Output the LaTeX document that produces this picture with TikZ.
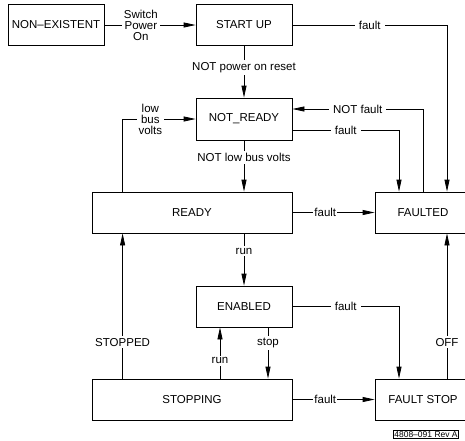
\documentclass[tikz,border=0pt]{standalone}
\usepackage{fontspec}
\setmainfont{Liberation Sans}
\usetikzlibrary{arrows.meta,calc}

\begin{document}
\begin{tikzpicture}[x=1pt, y=-1pt,
  state/.style={draw, line width=0.8pt, minimum height=41pt, inner sep=0pt, font=\fontsize{11.5}{11.5}\selectfont},
  lbl/.style={fill=white, inner xsep=4pt, inner ysep=2pt, font=\fontsize{11.5}{11}\selectfont, align=center},
  arr/.style={line width=0.8pt, -{Triangle[length=12pt,width=5pt]}}]
  \useasboundingbox (0,0) rectangle (465,440);
  \node[state, minimum width=96pt] (nonex) at (56,25) {NON--EXISTENT};
  \node[state, minimum width=96pt] (startup) at (244,25) {START UP};
  \node[state, minimum width=96pt, minimum height=42pt] (notready) at (244,119) {NOT\_READY};
  \node[state, minimum width=200pt] (ready) at (192,212.5) {READY};
  \node[state, minimum width=96pt] (enabled) at (244,306.5) {ENABLED};
  \node[state, minimum width=200pt] (stopping) at (192,399.5) {STOPPING};
  \node[state, minimum width=96pt] (faulted) at (423,212.5) {FAULTED};
  \node[state, minimum width=96pt] (faultstop) at (423,399.5) {FAULT STOP};
  \coordinate (lowbus) at ([xshift=31pt]ready.north west);
  \coordinate (stopped) at ([xshift=31pt]ready.south west);
  \coordinate (runup) at ([xshift=-24pt]enabled.south);
  \coordinate (stopdn) at ([xshift=24pt]enabled.south);
  \coordinate (fltin) at ([xshift=24pt]faulted.north);
  \coordinate (nrflt) at ([xshift=-24pt]faulted.north);
  \coordinate (offup) at ([xshift=24pt]faultstop.north);
  \coordinate (enflt) at ([xshift=-24pt]faultstop.north);
  \draw[arr] (nonex.east) -- node[lbl, inner xsep=2pt, pos=0.4] {Switch\\Power\\On} (startup.west);
  \draw[arr] (startup.east) -| node[lbl, pos=0.25] {fault} (fltin);
  \draw[arr] (startup.south) -- node[lbl, pos=0.42] {NOT power on reset} (notready.north);
  \draw[arr] (faulted.north) |- node[lbl, pos=0.75] {NOT fault} ([yshift=10pt]notready.east);
  \draw[arr] ([yshift=-11pt]notready.east) -| node[lbl, pos=0.25] {fault} (nrflt);
  \draw[arr] (lowbus) |- node[lbl, inner xsep=2pt, pos=0.69] {low\\bus\\volts} (notready.west);
  \draw[arr] (notready.south) -- node[lbl, pos=0.33] {NOT low bus volts} (notready.south |- ready.north);
  \draw[arr] (ready.east) -- node[lbl, inner xsep=1pt, pos=0.4] {fault} (faulted.west);
  \draw[arr] (enabled.north |- ready.south) -- node[lbl, pos=0.34] {run} (enabled.north);
  \draw[arr] (enabled.east) -| node[lbl, pos=0.25] {fault} (enflt);
  \draw[arr] (stopping.east) -- node[lbl, inner xsep=1pt, pos=0.4] {fault} (faultstop.west);
  \draw[arr] (stopped |- stopping.north) -- node[lbl, pos=0.25] {STOPPED} (stopped);
  \draw[arr] (runup |- stopping.north) -- node[lbl, pos=0.35] {run} (runup);
  \draw[arr] (stopdn) -- node[lbl, pos=0.31] {stop} (stopdn |- stopping.north);
  \draw[arr] (offup) -- node[lbl, pos=0.25] {OFF} (offup |- faulted.south);
  \node[draw, line width=0.5pt, inner sep=1pt, font=\fontsize{8.5}{8.5}\selectfont] (rev) at (426,434.5) {4808--091 Rev A};
\end{tikzpicture}
\end{document}
